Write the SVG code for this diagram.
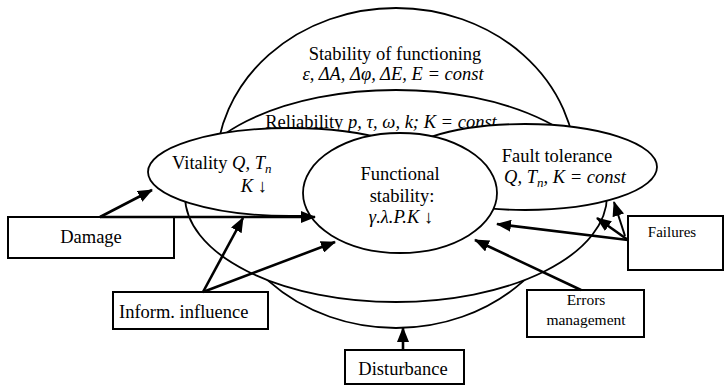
<svg xmlns="http://www.w3.org/2000/svg" width="728" height="387" viewBox="0 0 728 387">
<style>
.sh{fill:#fff;stroke:#000;stroke-width:1.8}
.bx{fill:#fff;stroke:#000;stroke-width:2}
text{font-family:"Liberation Serif","Times New Roman",serif;font-size:18.5px;fill:#000}
.m{font-style:italic}
.sub{font-size:13px}
.sm{font-size:15.5px}
.c line{stroke:#000;stroke-width:2.6;marker-end:url(#ah)}
</style>
<defs>
<marker id="ah" viewBox="0 0 15 12" refX="14" refY="6" markerWidth="15" markerHeight="12" markerUnits="userSpaceOnUse" orient="auto"><path d="M0,0 L15,6 L0,12 z" fill="#000"/></marker>
</defs>
<g id="stability">
<ellipse class="sh" cx="396" cy="168" rx="180" ry="160"/>
<text x="395" y="60" text-anchor="middle">Stability of functioning</text>
<text x="393" y="80" text-anchor="middle" class="m">ε, ΔA, Δφ, ΔE, E = const</text>
</g>
<g id="reliability">
<ellipse class="sh" cx="396" cy="196" rx="211" ry="106"/>
<text x="381" y="128" text-anchor="middle">Reliability <tspan class="m">p, τ, ω, k; K = const</tspan></text>
</g>
<g id="vitality">
<ellipse class="sh" cx="290" cy="172" rx="142" ry="44"/>
<text x="172" y="169">Vitality <tspan class="m">Q, T</tspan><tspan class="m sub" dy="4">n</tspan></text>
<text x="267" y="192" text-anchor="end"><tspan class="m">K</tspan> ↓</text>
</g>
<g id="fault-tolerance">
<ellipse class="sh" cx="525" cy="167" rx="132" ry="43"/>
<text x="557" y="162" text-anchor="middle">Fault tolerance</text>
<text x="565" y="183" text-anchor="middle" class="m">Q, T<tspan class="sub" dy="4">n</tspan><tspan dy="-4">, K = const</tspan></text>
</g>
<g id="functional-stability">
<ellipse class="sh" cx="400" cy="193" rx="97" ry="60"/>
<text x="400" y="180" text-anchor="middle">Functional</text>
<text x="402" y="202" text-anchor="middle">stability:</text>
<text x="401" y="223" text-anchor="middle"><tspan class="m">γ.λ.P.K</tspan> ↓</text>
</g>
<g id="damage">
<rect class="bx" x="8" y="217" width="166" height="41"/>
<text x="91" y="243" text-anchor="middle">Damage</text>
</g>
<g id="inform-influence">
<rect class="bx" x="113" y="292" width="155" height="37"/>
<text x="119" y="318">Inform. influence</text>
</g>
<g id="disturbance">
<rect class="bx" x="345" y="350" width="119" height="34"/>
<text x="403" y="375" text-anchor="middle">Disturbance</text>
</g>
<g id="errors-management">
<rect class="bx" x="527" y="290" width="117" height="47"/>
<text x="586" y="305" text-anchor="middle" class="sm">Errors</text>
<text x="586" y="325" text-anchor="middle" class="sm">management</text>
</g>
<g id="failures">
<rect class="bx" x="628" y="216" width="95" height="54"/>
<text x="672" y="237" text-anchor="middle" style="font-size:15px">Failures</text>
</g>
<g id="connectors" class="c">
<line x1="100" y1="217" x2="152" y2="190"/>
<line x1="100" y1="217" x2="315" y2="217"/>
<line x1="203" y1="292" x2="243" y2="218"/>
<line x1="203" y1="292" x2="335" y2="242"/>
<line x1="403" y1="350" x2="403" y2="328"/>
<line x1="581" y1="290" x2="475" y2="240"/>
<line x1="628" y1="240" x2="497" y2="224"/>
<line x1="628" y1="240" x2="597" y2="218"/>
<line x1="625" y1="236" x2="614" y2="202" style="stroke-width:2"/>
</g>
</svg>
